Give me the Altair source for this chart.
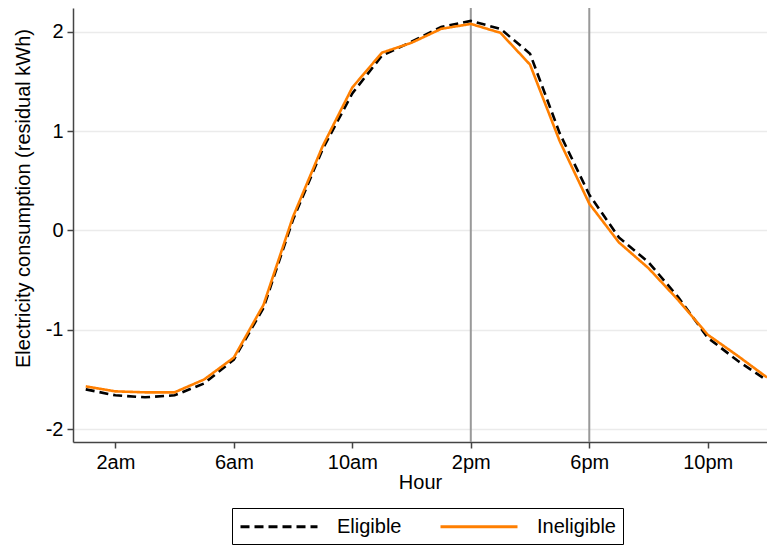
import altair as alt
import pandas as pd

hours = list(range(1, 25))
eligible = [-1.60, -1.66, -1.68, -1.66, -1.54, -1.30, -0.78, 0.11, 0.82, 1.38, 1.76, 1.90,
            2.05, 2.11, 2.03, 1.78, 0.98, 0.36, -0.07, -0.32, -0.67, -1.08, -1.31, -1.51]
ineligible = [-1.57, -1.62, -1.63, -1.63, -1.50, -1.28, -0.75, 0.14, 0.85, 1.44, 1.79, 1.89,
              2.03, 2.08, 1.99, 1.67, 0.90, 0.27, -0.12, -0.38, -0.70, -1.05, -1.26, -1.48]
groups = ["Eligible", "Ineligible"]
tick_hours = [2, 6, 10, 14, 18, 22]
tick_labels = ["2am", "6am", "10am", "2pm", "6pm", "10pm"]
vlines = [14, 18]

rows = []
for h, e, i in zip(hours, eligible, ineligible):
    rows.append({"hour": h, "value": e, "group": groups[0]})
    rows.append({"hour": h, "value": i, "group": groups[1]})
df = pd.DataFrame(rows)

label_map = "{" + ",".join(f"'{h}':'{l}'" for h, l in zip(tick_hours, tick_labels)) + "}"

FONT = "Liberation Sans"
FS = 20
xscale = alt.Scale(domain=[0.57, 24], nice=False, zero=False)
yscale = alt.Scale(domain=[-2.13, 2.24], nice=False, zero=False)

x_enc = alt.X("hour:Q", scale=xscale,
              axis=alt.Axis(title="Hour", values=tick_hours,
                            labelExpr=label_map + "[datum.value + '']",
                            grid=False, domainColor="#444", tickColor="#444",
                            tickSize=6, labelFontSize=FS, titleFontSize=FS,
                            labelPadding=4, titlePadding=0, labelColor="black",
                            titleColor="black", labelFont=FONT, titleFont=FONT,
                            titleFontWeight="normal", domainWidth=1.5, tickWidth=1.5))
y_enc = alt.Y("value:Q", scale=yscale,
              axis=alt.Axis(title="Electricity consumption (residual kWh)",
                            values=[-2, -1, 0, 1, 2],
                            labelExpr="datum.value + ''",
                            grid=True, gridColor="#ebebeb", gridWidth=1.5,
                            domainColor="#444", tickColor="#444", tickSize=6,
                            labelFontSize=FS, titleFontSize=FS, labelPadding=4,
                            titlePadding=12, titleY=190, labelColor="black",
                            titleColor="black",
                            labelFont=FONT, titleFont=FONT, titleFontWeight="normal",
                            domainWidth=1.5, tickWidth=1.5))

lines = alt.Chart(df).mark_line(strokeWidth=2.6, clip=True).encode(
    x=x_enc,
    y=y_enc,
    color=alt.Color("group:N", scale=alt.Scale(domain=groups, range=["black", "#ff7f00"]),
                    legend=alt.Legend(title=None)),
    strokeDash=alt.StrokeDash("group:N",
                              scale=alt.Scale(domain=groups, range=[[9, 5], [1, 0]]),
                              legend=alt.Legend(title=None)),
)

vl_df = pd.DataFrame({"hour": vlines})
rules = alt.Chart(vl_df).mark_rule(color="#999999", strokeWidth=2).encode(
    x=alt.X("hour:Q", scale=xscale)
)

chart = alt.layer(rules, lines).properties(
    width=694, height=434,
    autosize=alt.AutoSizeParams(type="none"),
    padding={"left": 65, "top": 0, "right": 0, "bottom": 104},
).configure_view(stroke=None).configure_legend(
    orient="none", legendX=159, legendY=500, direction="horizontal",
    strokeColor="black", fillColor="white", padding=7,
    symbolType="M-1,0H6.7", symbolSize=400, symbolStrokeWidth=2.8,
    symbolFillColor="transparent",
    labelFontSize=FS, labelFont=FONT, labelColor="black",
    labelOffset=75, columnPadding=32,
)

chart.save("out.html", embed_options={"renderer": "svg", "actions": False})
